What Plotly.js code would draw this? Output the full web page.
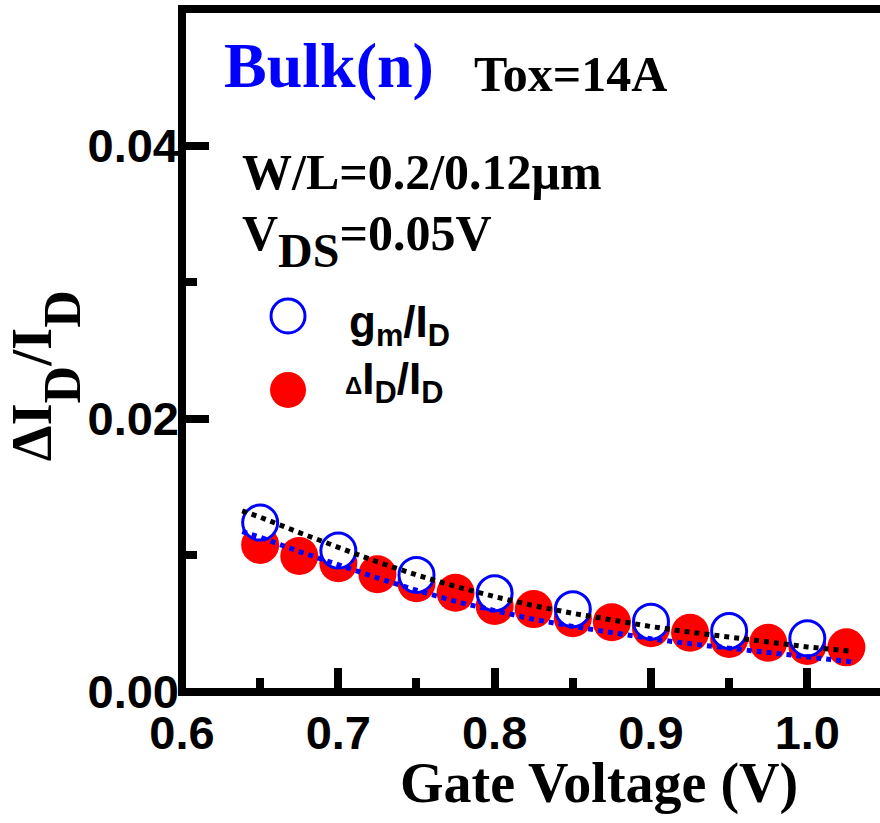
<!DOCTYPE html>
<html>
<head>
<meta charset="utf-8">
<script src="https://cdn.plot.ly/plotly-3.0.1.min.js"></script>
<style>
  html, body { margin: 0; padding: 0; overflow: hidden; background: #fff; }
  #chart { width: 880px; height: 823px; }
</style>
</head>
<body>
<div id="chart"></div>
<script>
// ---- data ----
const xGm = [0.65, 0.70, 0.75, 0.80, 0.85, 0.90, 0.95, 1.00];
const yGm = [0.0124, 0.01035, 0.00857, 0.00723, 0.00606, 0.00515, 0.00447, 0.00393];

const xDelta = [0.65, 0.675, 0.70, 0.725, 0.75, 0.775, 0.80, 0.825, 0.85, 0.875, 0.90, 0.925, 0.95, 0.975, 1.00, 1.025];
const yDelta = [0.01077, 0.00996, 0.00943, 0.00862, 0.00796, 0.00727, 0.0063, 0.00607, 0.0054, 0.00511, 0.00467, 0.00434, 0.00388, 0.00361, 0.00337, 0.00327];

const xFit = [0.6385, 0.65, 0.675, 0.70, 0.725, 0.75, 0.775, 0.80, 0.825, 0.85, 0.875, 0.90, 0.925, 0.95, 0.975, 1.00, 1.025, 1.029];
const yFitGm = [0.01326, 0.0128, 0.01167, 0.01057, 0.00952, 0.00857, 0.00772, 0.00698, 0.00632, 0.00576, 0.00525, 0.00479, 0.00438, 0.004, 0.00369, 0.0033, 0.00302, 0.00298];
const yFitDelta = [0.01174, 0.01133, 0.01028, 0.00928, 0.00835, 0.00745, 0.00663, 0.00596, 0.00532, 0.0048, 0.00434, 0.0039, 0.00353, 0.0032, 0.00286, 0.00256, 0.00228, 0.0022];

const xTickVals = [0.6, 0.7, 0.8, 0.9, 1.0];
const xTickText = ['0.6', '0.7', '0.8', '0.9', '1.0'];
const yTickVals = [0, 0.02, 0.04];
const yTickText = ['0.00', '0.02', '0.04'];

const SANS = 'Liberation Sans, Arial, sans-serif';
const SERIF = 'Liberation Serif, Times New Roman, serif';

const traces = [
  { x: xDelta, y: yDelta, type: 'scatter', mode: 'markers', name: 'ΔID/ID',
    marker: { symbol: 'circle', size: 38, color: '#ff0000', line: { width: 0 } }, showlegend: false },
  { x: xGm, y: yGm, type: 'scatter', mode: 'markers', name: 'gm/ID',
    marker: { symbol: 'circle', size: 35, color: '#ffffff', line: { width: 3, color: '#0000ff' } }, showlegend: false },
  { x: xFit, y: yFitDelta, type: 'scatter', mode: 'lines', name: 'fit ΔID/ID',
    line: { color: '#0000ff', width: 5, dash: '5px,5px' }, showlegend: false },
  { x: xFit, y: yFitGm, type: 'scatter', mode: 'lines', name: 'fit gm/ID',
    line: { color: '#000000', width: 5, dash: '5px,5px' }, showlegend: false }
];

const layout = {
  width: 880, height: 823,
  margin: { l: 182, r: 0, t: 9, b: 131 },
  paper_bgcolor: '#ffffff', plot_bgcolor: '#ffffff',
  showlegend: false,
  xaxis: {
    range: [0.6, 1.0465], showgrid: false, zeroline: false, showline: false,
    tickmode: 'array', tickvals: xTickVals, ticktext: xTickText,
    ticks: 'inside', ticklen: 24, tickwidth: 8, tickcolor: '#000',
    ticklabelstandoff: 9,
    tickfont: { family: SANS, size: 47, color: '#000', weight: 'bold' },
    minor: { dtick: 0.05, tick0: 0.6, ticks: 'inside', ticklen: 14, tickwidth: 8, tickcolor: '#000', showgrid: false }
  },
  yaxis: {
    range: [0, 0.05], showgrid: false, zeroline: false, showline: false,
    tickmode: 'array', tickvals: yTickVals, ticktext: yTickText,
    ticks: 'inside', ticklen: 27, tickwidth: 8, tickcolor: '#000',
    ticklabelstandoff: 2,
    tickfont: { family: SANS, size: 47, color: '#000', weight: 'bold' },
    minor: { dtick: 0.01, tick0: 0, ticks: 'inside', ticklen: 15, tickwidth: 8, tickcolor: '#000', showgrid: false }
  },
  shapes: [
    // frame: top, left, bottom spines (right side is outside the picture)
    { type: 'path', xref: 'paper', yref: 'paper', path: 'M 1.1,1 L 0,1 L 0,0 L 1.1,0',
      line: { color: '#000', width: 8 }, layer: 'above' },
    // legend symbols
    { type: 'circle', xref: 'paper', yref: 'paper', xsizemode: 'pixel', ysizemode: 'pixel',
      xanchor: 0.1519, yanchor: 0.5505, x0: -17, x1: 17, y0: -17, y1: 17,
      fillcolor: '#ffffff', line: { color: '#0000ff', width: 3 } },
    { type: 'circle', xref: 'paper', yref: 'paper', xsizemode: 'pixel', ysizemode: 'pixel',
      xanchor: 0.1519, yanchor: 0.4422, x0: -18, x1: 18, y0: -18, y1: 18,
      fillcolor: '#ff0000', line: { width: 0 } }
  ],
  annotations: [
    { text: 'Bulk(n)', xref: 'paper', yref: 'paper', x: 0.0573, y: 0.9174, xanchor: 'left', yanchor: 'middle',
      showarrow: false, font: { family: SERIF, size: 64, color: '#0000ff', weight: 'bold' } },
    { text: 'Tox=14A', xref: 'paper', yref: 'paper', x: 0.4155, y: 0.9047, xanchor: 'left', yanchor: 'middle',
      showarrow: false, font: { family: SERIF, size: 50, color: '#000', weight: 'bold' } },
    { text: 'W/L=0.2/0.12μm', xref: 'paper', yref: 'paper', x: 0.0831, y: 0.7612, xanchor: 'left', yanchor: 'middle',
      showarrow: false, font: { family: SERIF, size: 50, color: '#000', weight: 'bold' } },
    { text: '<span style="font-size:50px">V</span><sub><span style="font-size:48px">DS</span></sub><span style="font-size:50px">=0.05V</span>',
      xref: 'paper', yref: 'paper', x: 0.0831, y: 0.6597, xanchor: 'left', yanchor: 'middle',
      showarrow: false, font: { family: SERIF, size: 81, color: '#000', weight: 'bold' } },
    { text: 'g<sub>m</sub>/I<sub>D</sub>', xref: 'paper', yref: 'paper', x: 0.2364, y: 0.5373, xanchor: 'left', yanchor: 'middle',
      showarrow: false, font: { family: SANS, size: 44, color: '#000', weight: 'bold' } },
    { text: '<span style="font-size:24px">Δ</span>I<sub>D</sub>/I<sub>D</sub>', xref: 'paper', yref: 'paper', x: 0.2307, y: 0.4539, xanchor: 'left', yanchor: 'middle',
      showarrow: false, font: { family: SANS, size: 44, color: '#000', weight: 'bold' } },
    // axis titles
    { text: 'Gate Voltage (V)', xref: 'paper', yref: 'paper', x: 0.5974, y: -0.1333, xanchor: 'center', yanchor: 'middle',
      showarrow: false, font: { family: SERIF, size: 56, color: '#000', weight: 'bold' } },
    { text: '<span style="font-size:57px">ΔI</span><sub><span style="font-size:52px">D</span></sub><span style="font-size:57px">/I</span><sub><span style="font-size:52px">D</span></sub>',
      xref: 'paper', yref: 'paper', x: -0.195, y: 0.4635, xanchor: 'center', yanchor: 'middle', textangle: -90,
      showarrow: false, font: { family: SERIF, size: 138, color: '#000', weight: 'bold' } }
  ]
};

Plotly.newPlot('chart', traces, layout, { displayModeBar: false, staticPlot: true });
</script>
</body>
</html>
